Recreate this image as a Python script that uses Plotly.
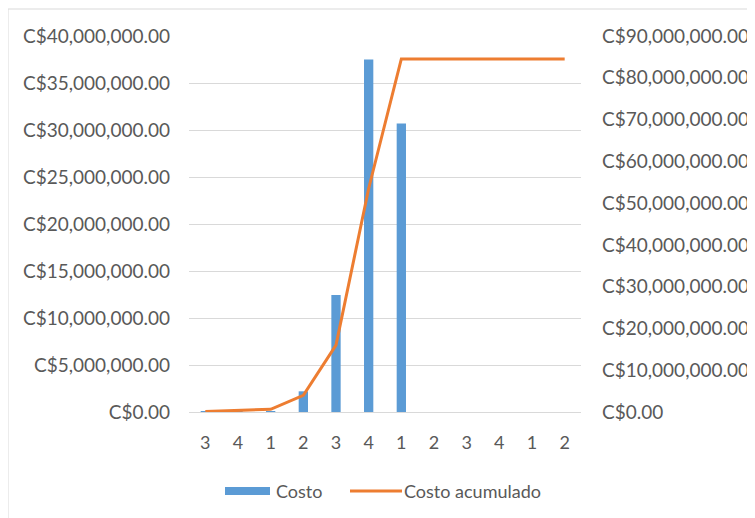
import plotly.graph_objects as go

tick_labels = ["3", "4", "1", "2", "3", "4", "1", "2", "3", "4", "1", "2"]
costo = [50000, 150000, 100000, 2200000, 12450000, 37500000, 30700000, 0, 0, 0, 0, 0]
costo_acumulado = [100000, 450000, 650000, 4000000, 16000000, 53500000, 84500000,
                   84500000, 84500000, 84500000, 84500000, 84500000]

x = list(range(len(tick_labels)))
FONT = "Lato"
TXT = "#595959"
GRID = "#D9D9D9"
BLUE = "#5B9BD5"
ORANGE = "#ED7D31"

OFF = 8  # page body margin
W, H = 755 - OFF, 518 - OFF
# plot area in screen pixels
L, R, T, B = 189, 581, 36, 412


def px(xp):
    return (xp - L) / (R - L)


def py(yp):
    return (B - yp) / (B - T)


fig = go.Figure()
fig.add_trace(go.Bar(x=x, y=costo, name="Costo", marker=dict(color=BLUE, line=dict(width=0)),
                     yaxis="y"))
fig.add_trace(go.Scatter(x=x, y=costo_acumulado, name="Costo acumulado", mode="lines",
                         line=dict(color=ORANGE, width=3), yaxis="y2"))

legend_y = py(491)
shapes = [
    dict(type="rect", xref="paper", yref="paper", x0=px(8), x1=px(800), y0=py(560), y1=py(9),
         line=dict(color=GRID, width=1), fillcolor="rgba(0,0,0,0)", layer="below"),
    dict(type="rect", xref="paper", yref="paper", x0=px(225), x1=px(270), y0=py(495), y1=py(487),
         line=dict(width=0), fillcolor=BLUE),
    dict(type="line", xref="paper", yref="paper", x0=px(350), x1=px(402), y0=legend_y, y1=legend_y,
         line=dict(color=ORANGE, width=3)),
]
annotations = [
    dict(text="Costo", xref="paper", yref="paper", x=px(274), y=legend_y, xanchor="left",
         yanchor="middle", showarrow=False, font=dict(family=FONT, size=18, color=TXT)),
    dict(text="Costo acumulado", xref="paper", yref="paper", x=px(402), y=legend_y, xanchor="left",
         yanchor="middle", showarrow=False, font=dict(family=FONT, size=18, color=TXT)),
]

fig.update_layout(
    width=W, height=H,
    margin=dict(l=L - OFF, r=W - (R - OFF), t=T - OFF, b=H - (B - OFF)),
    paper_bgcolor="white", plot_bgcolor="white",
    font=dict(family=FONT, size=19, color=TXT),
    bargap=0.715,
    showlegend=False,
    xaxis=dict(tickmode="array", tickvals=x, ticktext=tick_labels, range=[-0.5, 11.5],
               showgrid=False, showline=True, linecolor=GRID, linewidth=1, ticks="",
               ticklabelstandoff=14, zeroline=False, automargin=False,
               tickfont=dict(size=18)),
    yaxis=dict(range=[0, 40000000], dtick=5000000, tickprefix="C$", tickformat=",.2f",
               showgrid=True, gridcolor=GRID, gridwidth=1, zeroline=False, showline=False,
               ticks="", ticklabelstandoff=18, automargin=False),
    yaxis2=dict(range=[0, 90000000], dtick=10000000, tickprefix="C$", tickformat=",.2f",
                overlaying="y", side="right", showgrid=False, zeroline=False, showline=False,
                ticks="", ticklabelstandoff=20, automargin=False),
    shapes=shapes,
    annotations=annotations,
)

fig.write_html("out.html")
